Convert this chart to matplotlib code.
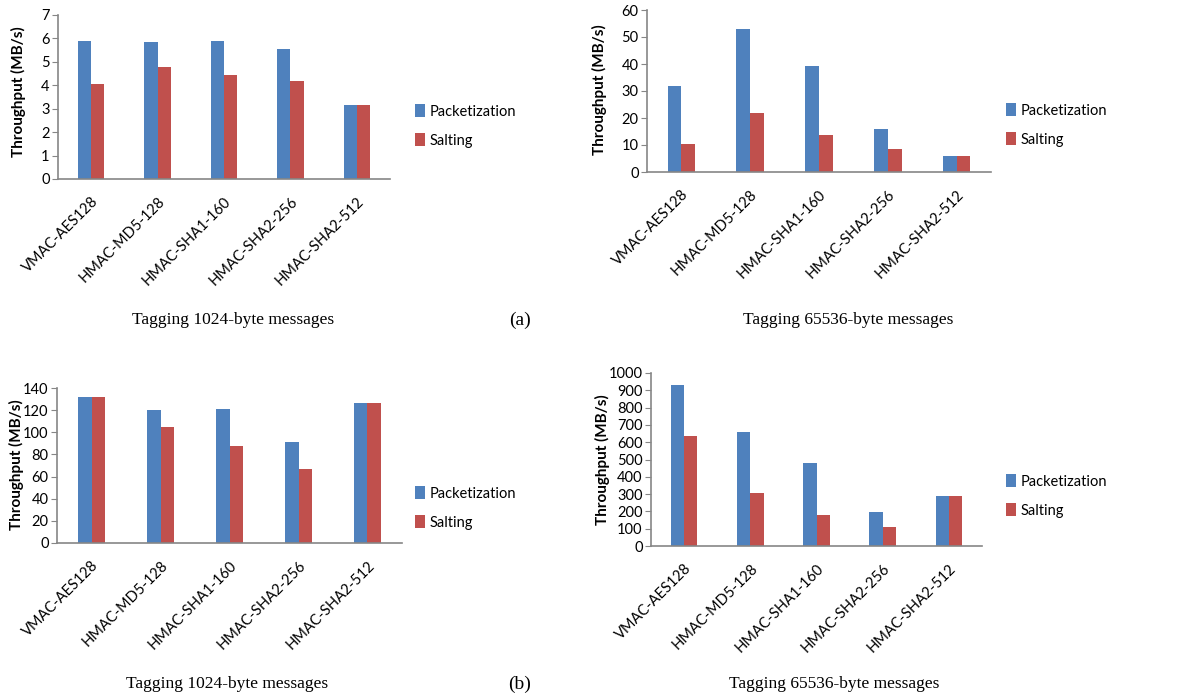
import matplotlib
matplotlib.use("Agg")
import matplotlib.pyplot as plt
import numpy as np

W, H = 1183, 697

categories = ["VMAC-AES128", "HMAC-MD5-128", "HMAC-SHA1-160", "HMAC-SHA2-256", "HMAC-SHA2-512"]

# (a) 1024-byte messages
a1_pack = [5.9, 5.85, 5.88, 5.55, 3.15]
a1_salt = [4.07, 4.78, 4.46, 4.19, 3.15]
# (a) 65536-byte messages
a2_pack = [31.8, 52.8, 39.2, 16.1, 5.8]
a2_salt = [10.4, 21.9, 13.7, 8.7, 5.8]
# (b) 1024-byte messages
b1_pack = [132, 120.5, 120.7, 90.8, 126.4]
b1_salt = [132, 105, 87.8, 67, 126.4]
# (b) 65536-byte messages
b2_pack = [930, 661, 481, 198, 288]
b2_salt = [634, 304, 179, 110, 288]

BLUE = "#4F81BD"
RED = "#C0504D"
GRAY = "#868686"
tick_font = "Lato"
serif_font = "Liberation Serif"

fig = plt.figure(figsize=(W / 100, H / 100), dpi=100)


def px_axes(left, right, top, bottom):
    # axes placed in pixel coordinates of the reference picture
    return fig.add_axes([left / W, 1 - bottom / H, (right - left) / W, (bottom - top) / H])


def draw_panel(ax, pack, salt, ymax, ystep, leg_x, leg_y, lab_x, lab_y):
    x = np.arange(len(categories))
    bw = 0.2
    ax.bar(x - bw / 2, pack, bw, color=BLUE, label="Packetization")
    ax.bar(x + bw / 2, salt, bw, color=RED, label="Salting")
    ax.set_xlim(-0.5, len(categories) - 0.5)
    ax.set_ylim(0, ymax)
    ax.set_yticks(np.arange(0, ymax + ystep / 2, ystep))
    ax.set_xticks(x)
    ax.set_xticklabels(categories, rotation=45, ha="right", rotation_mode="anchor",
                       fontsize=10.5, family=tick_font)
    for lab in ax.get_yticklabels():
        lab.set_family(tick_font)
        lab.set_fontsize(10.5)
    ax.tick_params(axis="x", length=0, pad=11)
    ax.tick_params(axis="y", length=4, color=GRAY, pad=2)
    for s in ["top", "right"]:
        ax.spines[s].set_visible(False)
    for s in ["left", "bottom"]:
        ax.spines[s].set_color(GRAY)
        ax.spines[s].set_linewidth(1.2)
    fig.text(lab_x / W, 1 - lab_y / H, "Throughput (MB/s)", rotation=90,
             ha="center", va="center", fontsize=11, fontweight="bold", family=tick_font)
    ax.legend(loc="center left", bbox_to_anchor=(leg_x / W, 1 - leg_y / H),
              bbox_transform=fig.transFigure, frameon=False,
              prop={"family": tick_font, "size": 10.5},
              handlelength=0.7, handleheight=1.0, handletextpad=0.3, labelspacing=1.0,
              borderaxespad=0, borderpad=0)


ax1 = px_axes(58, 390, 15, 179)
draw_panel(ax1, a1_pack, a1_salt, 7, 1, 415, 126, 18, 92)
ax2 = px_axes(647, 991, 10, 172)
draw_panel(ax2, a2_pack, a2_salt, 60, 10, 1006, 125, 599, 90)
ax3 = px_axes(57, 402, 388, 543)
draw_panel(ax3, b1_pack, b1_salt, 140, 20, 415, 508, 16, 465)
ax4 = px_axes(651, 982, 373, 546)
draw_panel(ax4, b2_pack, b2_salt, 1000, 100, 1006, 496, 602, 460)

cap = dict(fontsize=12.5, family=serif_font, ha="center", va="center")
fig.text(233 / W, 1 - 320 / H, "Tagging 1024-byte messages", **cap)
fig.text(520 / W, 1 - 320 / H, "(a)", fontsize=14, family=serif_font, ha="center", va="center")
fig.text(848 / W, 1 - 320 / H, "Tagging 65536-byte messages", **cap)
fig.text(227 / W, 1 - 684 / H, "Tagging 1024-byte messages", **cap)
fig.text(520 / W, 1 - 684 / H, "(b)", fontsize=14, family=serif_font, ha="center", va="center")
fig.text(834 / W, 1 - 684 / H, "Tagging 65536-byte messages", **cap)

fig.savefig("out.png", dpi=100)
